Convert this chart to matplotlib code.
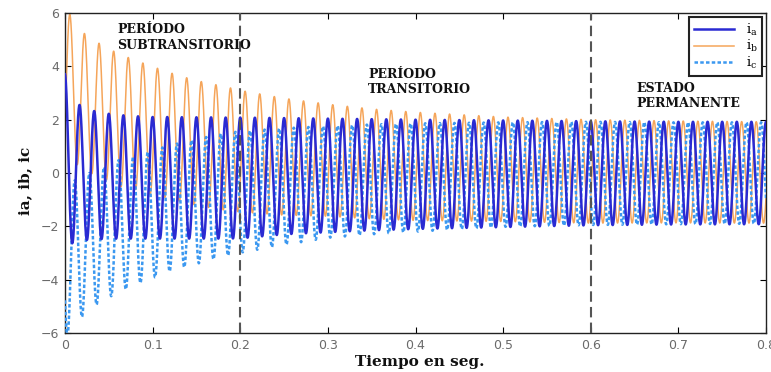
import numpy as np
import matplotlib
matplotlib.use("Agg")
import matplotlib.pyplot as plt

# ---- data (envelopes of the three phase currents) ----
env_t = [0.0, 0.01, 0.02, 0.04, 0.06, 0.08, 0.10, 0.12, 0.14, 0.16, 0.18,
         0.20, 0.25, 0.30, 0.35, 0.40, 0.50, 0.60, 0.70, 0.80]

ia_hi = [3.70, 2.75, 2.45, 2.26, 2.18, 2.13, 2.10, 2.10, 2.09, 2.09, 2.08,
         2.08, 2.06, 2.04, 2.02, 2.00, 1.97, 1.94, 1.92, 1.92]
ia_lo = [-2.70, -2.62, -2.52, -2.48, -2.46, -2.46, -2.46, -2.46, -2.46, -2.46, -2.46,
         -2.45, -2.30, -2.22, -2.15, -2.10, -2.03, -1.96, -1.93, -1.92]

ib_hi = [6.20, 5.74, 5.28, 4.84, 4.49, 4.23, 3.99, 3.76, 3.56, 3.39, 3.26,
         3.10, 2.80, 2.58, 2.40, 2.28, 2.10, 2.00, 1.95, 1.92]
ib_lo = [0.50, 0.45, 0.10, -0.14, -0.49, -0.61, -0.81, -0.96, -1.14, -1.27, -1.38,
         -1.46, -1.58, -1.62, -1.72, -1.78, -1.82, -1.88, -1.87, -1.88]

ic_hi = [-0.50, -0.30, -0.10, 0.15, 0.47, 0.63, 0.85, 1.04, 1.20, 1.34, 1.49,
         1.56, 1.68, 1.76, 1.82, 1.86, 1.90, 1.92, 1.90, 1.90]
ic_lo = [-6.20, -5.80, -5.37, -4.83, -4.50, -4.20, -3.95, -3.68, -3.50, -3.32, -3.14,
         -2.99, -2.70, -2.43, -2.30, -2.20, -2.02, -1.95, -1.92, -1.90]

freq_hz = 60.0
phase_shift_deg = [0.0, -120.0, 120.0]   # a, b, c
labels = [r"$\mathregular{i_a}$", r"$\mathregular{i_b}$", r"$\mathregular{i_c}$"]
xticks = [0, 0.1, 0.2, 0.3, 0.4, 0.5, 0.6, 0.7, 0.8]
xticklabels = ["0", "0.1", "0.2", "0.3", "0.4", "0.5", "0.6", "0.7", "0.8"]
yticks = [-6, -4, -2, 0, 2, 4, 6]
period_lines = [0.2, 0.6]

# ---- build waveforms from envelopes ----
t = np.linspace(0, 0.8, 24001)
def wave(hi, lo, ph):
    h = np.interp(t, env_t, hi)
    l = np.interp(t, env_t, lo)
    return (h + l) / 2 + (h - l) / 2 * np.cos(2 * np.pi * freq_hz * t + np.deg2rad(ph))

ia = wave(ia_hi, ia_lo, phase_shift_deg[0])
ib = wave(ib_hi, ib_lo, phase_shift_deg[1])
ic = wave(ic_hi, ic_lo, phase_shift_deg[2])

fig = plt.figure(figsize=(7.71, 3.72), dpi=100)
ax = fig.add_axes([65 / 771, 39 / 372, 701 / 771, 320 / 372])

lb, = ax.plot(t, ib, color="#f5a55a", lw=1.1, label=labels[1], zorder=2)
lc, = ax.plot(t, ic, color="#3b98f0", lw=1.8, ls=(0, (1.4, 0.9)), label=labels[2], zorder=3)
la, = ax.plot(t, ia, color="#2a2ad2", lw=1.8, label=labels[0], zorder=4)

for xv in period_lines:
    ax.axvline(xv, color="#555555", lw=1.5, ls=(0, (5, 2.5)), zorder=5)

ax.set_xlim(0, 0.8)
ax.set_ylim(-6, 6)
ax.set_xticks(xticks)
ax.set_xticklabels(xticklabels)
ax.set_yticks(yticks)
ax.tick_params(direction="in", top=True, right=True, length=4, width=0.8,
               labelsize=9, labelcolor="#6a6a6a", pad=4)
for s in ax.spines.values():
    s.set_linewidth(1.0)
    s.set_color("#222222")

serif = ["DejaVu Serif"]
fig.text(420 / 771, 1 - 362 / 372, "Tiempo en seg.", family=serif, fontweight="bold",
         fontsize=11, ha="center", va="center", color="#111111")
fig.text(25 / 771, 1 - 181 / 372, "ia, ib, ic", family=serif, fontweight="bold",
         fontsize=11, ha="center", va="center", rotation=90, color="#111111")

txt_kw = dict(family=serif, fontweight="bold", fontsize=9, color="#111111",
              va="top", ha="left", linespacing=1.25, zorder=6)
ax.text(0.0594, 5.62, "PERÍODO\nSUBTRANSITORIO", **txt_kw)
ax.text(0.346, 3.95, "PERÍODO\nTRANSITORIO", **txt_kw)
ax.text(0.6526, 3.42, "ESTADO\nPERMANENTE", **txt_kw)

leg = ax.legend(handles=[la, lb, lc], loc="upper right",
                prop={"family": serif, "size": 9.5}, fancybox=False, framealpha=1,
                edgecolor="#222222", handlelength=3.0, borderpad=0.35,
                labelspacing=0.05, borderaxespad=0.3, handletextpad=0.9)
leg.get_frame().set_linewidth(1.5)
leg.set_zorder(10)

fig.savefig("out.png", dpi=100)
